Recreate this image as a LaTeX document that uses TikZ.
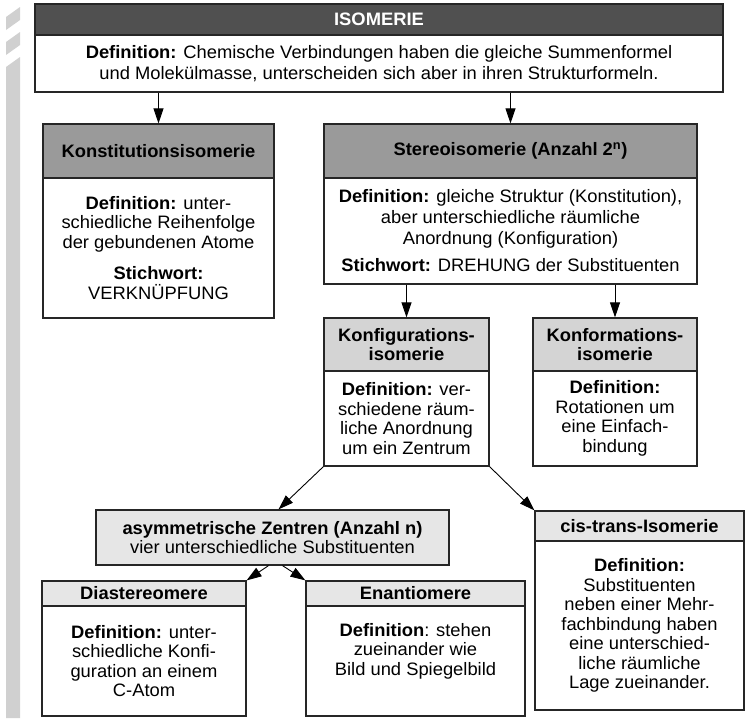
\documentclass[tikz,border=0pt]{standalone}
\usepackage{fontspec}
\setmainfont{Liberation Sans}[FakeStretch=1.02]
\usetikzlibrary{arrows.meta}

\definecolor{darkhead}{HTML}{505050}
\definecolor{midhead}{HTML}{9A9A9A}
\definecolor{lighthead}{HTML}{D4D4D4}
\definecolor{palehead}{HTML}{E6E6E6}
\definecolor{stripegray}{HTML}{D0D0D0}

\begin{document}
\begin{tikzpicture}[
        x=1pt, y=-1pt,
        font=\fontsize{18}{19.5}\selectfont,
        box/.style={
            draw=black!85,
            fill=#1,
            line width=1.2pt,
            align=center,
            inner sep=0pt
        },
        headbox/.style={box=#1, font=\fontsize{18}{19.5}\selectfont\bfseries},
        defbox/.style={box=white},
        arrow/.style={-{Triangle[length=15pt,width=10pt]}, line width=0.9pt}
    ]
        \useasboundingbox (0,0) rectangle (747,718);

        % grey stripe on the left
        \fill[stripegray] (6,17) -- (20,7) -- (20,20) -- (6,30) -- cycle;
        \fill[stripegray] (6,42) -- (20,32) -- (20,45) -- (6,55) -- cycle;
        \fill[stripegray] (6,67) -- (20,57) -- (20,718) -- (6,718) -- cycle;

        \node[headbox=darkhead, text=white, minimum width=688pt, minimum height=31pt] (isohead) at (379,19.5) {ISOMERIE};
        \node[defbox, minimum width=688pt, minimum height=57pt, font=\fontsize{18}{21.5}\selectfont] (isodef) at (379,63.5)
            {\textbf{Definition:} Chemische Verbindungen haben die gleiche Summenformel\\und Molekülmasse, unterscheiden sich aber in ihren Strukturformeln.};

        \node[headbox=midhead, minimum width=231pt, minimum height=54pt] (konsthead) at (158.5,151) {Konstitutionsisomerie};
        \node[defbox, minimum width=231pt, minimum height=140pt] (konstdef) at (158.5,248)
            {\textbf{Definition:} unter-\\schiedliche Reihenfolge\\der gebundenen Atome\\[12pt]\textbf{Stichwort:}\\VERKNÜPFUNG};

        \node[headbox=midhead, minimum width=373pt, minimum height=54pt] (stereohead) at (510.5,151) {Stereoisomerie (Anzahl 2\textsuperscript{n})};
        \node[defbox, minimum width=373pt, minimum height=106pt, font=\fontsize{18}{21}\selectfont] (stereodef) at (510.5,231)
            {\textbf{Definition:} gleiche Struktur (Konstitution),\\aber unterschiedliche räumliche\\Anordnung (Konfiguration)\\[6pt]\textbf{Stichwort:} DREHUNG der Substituenten};

        \draw[arrow] (konsthead |- isodef.south) -- (konsthead.north);
        \draw[arrow] (stereohead |- isodef.south) -- (stereohead.north);

        \node[headbox=lighthead, minimum width=165pt, minimum height=53pt] (konfighead) at (406.5,344.5) {Konfigurations-\\isomerie};
        \node[defbox, minimum width=165pt, minimum height=95pt] (konfigdef) at (406.5,418.5)
            {\textbf{Definition:} ver-\\schiedene räum-\\liche Anordnung\\um ein Zentrum};

        \node[headbox=lighthead, minimum width=164pt, minimum height=53pt] (konformhead) at (615,344.5) {Konformations-\\isomerie};
        \node[defbox, minimum width=164pt, minimum height=95pt] (konformdef) at (615,418.5)
            {\textbf{Definition:}\\Rotationen um\\eine Einfach-\\bindung};

        \draw[arrow] (konfighead |- stereodef.south) -- (konfighead.north);
        \draw[arrow] (konformhead |- stereodef.south) -- (konformhead.north);

        \node[box=palehead, minimum width=353pt, minimum height=55pt] (asym) at (272.5,537.5)
            {\textbf{asymmetrische Zentren (Anzahl n)}\\vier unterschiedliche Substituenten};

        \node[headbox=palehead, minimum width=209pt, minimum height=30pt] (cishead) at (639.5,526) {cis-trans-Isomerie};
        \node[defbox, minimum width=209pt, minimum height=169pt] (cisdef) at (639.5,625.5)
            {\textbf{Definition:}\\Substituenten\\neben einer Mehr-\\fachbindung haben\\eine unterschied-\\liche räumliche\\Lage zueinander.};

        \draw[arrow] (konfigdef.south west) -- ([xshift=6pt]asym.north);
        \draw[arrow] (konfigdef.south east) -- (cishead.north west);

        \node[headbox=palehead, minimum width=204pt, minimum height=25pt] (diahead) at (144,593.5) {Diastereomere};
        \node[defbox, minimum width=204pt, minimum height=110pt] (diadef) at (144,661)
            {\textbf{Definition:} unter-\\schiedliche Konfi-\\guration an einem\\C-Atom};

        \node[headbox=palehead, minimum width=219pt, minimum height=25pt] (enanhead) at (415.5,593.5) {Enantiomere};
        \node[defbox, minimum width=219pt, minimum height=110pt, text depth=23.5pt] (enandef) at (415.5,661)
            {\textbf{Definition}: stehen\\zueinander wie\\Bild und Spiegelbild};

        \coordinate (asymleft) at ([xshift=-4pt]asym.south);
        \coordinate (asymright) at ([xshift=10pt]asym.south);
        \draw[arrow] (asymleft) -- (diahead.north east);
        \draw[arrow] (asymright) -- (enanhead.north west);
    \end{tikzpicture}
\end{document}
